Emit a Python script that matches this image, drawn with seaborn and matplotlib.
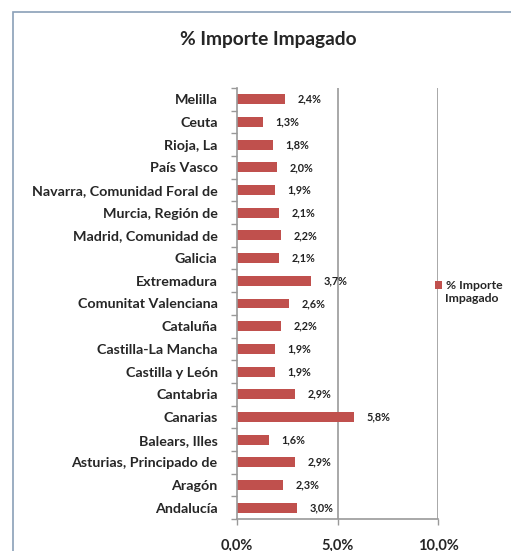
import matplotlib
matplotlib.use("Agg")
import matplotlib.pyplot as plt
import seaborn as sns
import pandas as pd
from matplotlib.patches import Rectangle

categories = ["Melilla", "Ceuta", "Rioja, La", "País Vasco", "Navarra, Comunidad Foral de",
              "Murcia, Región de", "Madrid, Comunidad de", "Galicia", "Extremadura",
              "Comunitat Valenciana", "Cataluña", "Castilla-La Mancha", "Castilla y León",
              "Cantabria", "Canarias", "Balears, Illes", "Asturias, Principado de",
              "Aragón", "Andalucía"]
values = [2.4, 1.3, 1.8, 2.0, 1.9, 2.1, 2.2, 2.1, 3.7, 2.6, 2.2, 1.9, 1.9, 2.9, 5.8, 1.6, 2.9, 2.3, 3.0]
series_name = "% Importe Impagado"
xticks = [0, 5, 10]
xtick_labels = ["0,0%", "5,0%", "10,0%"]

df = pd.DataFrame({"cat": categories, "val": values})

sns.set_style("white")
plt.rcParams['font.family'] = ['Lato', 'DejaVu Sans']

fig = plt.figure(figsize=(5.11, 5.51), dpi=100)
W, H = 511, 551
ax = fig.add_axes([237 / W, 1 - 519 / H, (438 - 237) / W, (519 - 88) / H])

bar_color = "#c0504d"
sns.barplot(data=df, x="val", y="cat", orient="h", color=bar_color, width=0.44,
            ax=ax, saturation=1, label=series_name, linewidth=0)

ax.set_xlim(0, 10)
ax.set_ylim(len(categories) - 0.5, -0.5)
ax.set_xticks(xticks)
ax.set_xticklabels(xtick_labels, fontsize=10.5, fontweight="bold")
ax.set_xlabel("")
ax.set_ylabel("")
ax.tick_params(axis="y", labelsize=10.3)
for lbl in ax.get_yticklabels():
    lbl.set_fontweight("bold")
for lbl in ax.get_xticklabels():
    lbl.set_fontweight("bold")

grey = "#999999"
for x in [5, 10]:
    ax.axvline(x, color=grey, lw=1.2, zorder=0)
for s in ["top", "right"]:
    ax.spines[s].set_visible(False)
ax.spines["left"].set_color(grey)
ax.spines["bottom"].set_color(grey)
ax.spines["left"].set_linewidth(1.2)
ax.spines["bottom"].set_linewidth(1.2)
ax.tick_params(axis="x", bottom=True, length=4, color=grey, width=1, pad=10)
ax.set_yticks([i + 0.5 for i in range(-1, len(categories))], minor=True)
ax.tick_params(axis="y", which="minor", left=True, length=4, color=grey, width=1)
ax.set_yticks(range(len(categories)))
ax.tick_params(axis="y", which="major", length=0, pad=14)

for i, v in enumerate(values):
    ax.text(v + 0.62, i, f"{v:.1f}%".replace(".", ","), va="center", ha="left",
            fontsize=7.8, fontweight="bold", color="#222222")

ax.legend(loc="upper left", bbox_to_anchor=(429 / W, 1 - 274 / H),
          bbox_transform=fig.transFigure, frameon=False,
          handlelength=0.55, handleheight=0.6, handletextpad=0.35, borderpad=0,
          prop={"weight": "bold", "size": 8.8})
leg = ax.get_legend()
leg.texts[0].set_text("% Importe")
fig.text(445 / W, 1 - 298 / H, "Impagado", ha="left", va="center",
         fontsize=8.8, fontweight="bold")

fig.text(268 / W, 1 - 40 / H, "% Importe Impagado", ha="center", va="center",
         fontsize=13.8, fontweight="bold")

fig.patches.append(Rectangle((13 / W, -0.1), 1.2, 1 - 12 / H + 0.1, transform=fig.transFigure,
                             fill=False, edgecolor="#8aa0b8", lw=1.2))

fig.savefig("out.png", dpi=100)
